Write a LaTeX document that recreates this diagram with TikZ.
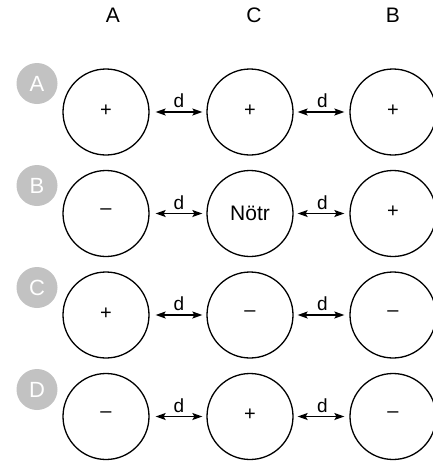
\documentclass[tikz,border=0pt]{standalone}
\usepackage{fontspec}
\setmainfont{Liberation Sans}
\usetikzlibrary{calc,arrows.meta}
\begin{document}
\begin{tikzpicture}[x=1pt,y=-1pt,
  ball/.style={circle,draw,line width=1.3pt,minimum size=86pt,inner sep=0pt,font=\fontsize{20}{20}\selectfont},
  badge/.style={circle,fill=black!24,minimum size=41pt,inner sep=0pt,text=white,font=\fontsize{22}{22}\selectfont},
  head/.style={font=\fontsize{21}{21}\selectfont},
  arr/.style={{Stealth[length=10pt,width=7pt,inset=2pt]}-{Stealth[length=10pt,width=7pt,inset=2pt]},line width=1.3pt},
  dlab/.style={font=\fontsize{19}{19}\selectfont,inner sep=0pt}]
\useasboundingbox (0,0) rectangle (433,461);
\node[head] (hA) at (113,15) {A};
\node[head] (hC) at (254,15) {C};
\node[head] (hB) at (393,15) {B};
\newcommand{\pl}{\raisebox{3pt}{+}}
\newcommand{\mn}{\raisebox{3pt}{--}}
\foreach \r/\y/\a/\c/\b in {1/112/\pl/\pl/\pl, 2/213.5/\mn/{\fontsize{21}{21}\selectfont\raisebox{1pt}{Nötr}}/\pl, 3/315/\pl/\mn/\mn, 4/416.5/\mn/\pl/\mn}{
  \node[ball] (a\r) at (106,\y) {\a};
  \node[ball] (c\r) at (250,\y) {\c};
  \node[ball] (b\r) at (393,\y) {\b};
  \draw[arr] ($(a\r.east)+(6,0)$) -- ($(c\r.west)+(-4,0)$);
  \draw[arr] ($(c\r.east)+(4,0)$) -- ($(b\r.west)+(-5,0)$);
  \node[dlab] (d1\r) at ($(a\r.east)!0.5!(c\r.west)+(1,-11)$) {d};
  \node[dlab] (d2\r) at ($(c\r.east)!0.5!(b\r.west)+(1,-11)$) {d};
}
\node[badge] (rA) at (37,83.5) {A};
\node[badge] (rB) at (37,185.5) {B};
\node[badge] (rC) at (37,287.5) {C};
\node[badge] (rD) at (37,389.5) {D};
\end{tikzpicture}
\end{document}
